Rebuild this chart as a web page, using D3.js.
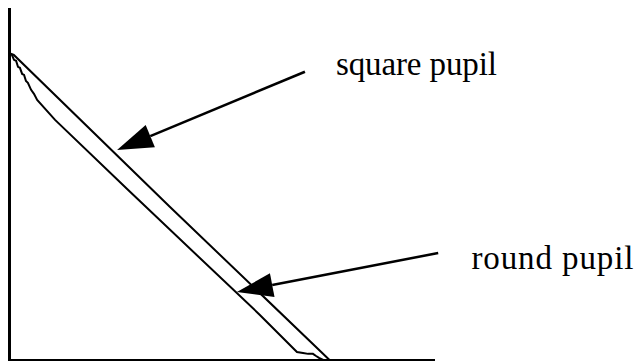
<!DOCTYPE html>
<html>
<head>
<meta charset="utf-8">
<script src="https://cdn.jsdelivr.net/npm/d3@7"></script>
<style>
  html, body { margin: 0; padding: 0; background: #fff; }
  #chart { width: 639px; height: 362px; }
  text { font-family: "Liberation Serif", "DejaVu Serif", serif; fill: #000; }
</style>
</head>
<body>
<div id="chart"></div>
<script>
/* global d3 */

// normalised frequency vs. response
var squarePupil = [
  [0, 1.0], [0.012, 0.995], [0.5, 0.5], [1.0, 0]
];
var roundPupil = [
  [0, 1.0], [0.006, 0.995], [0.0125, 0.979], [0.019, 0.976],
  [0.025, 0.956], [0.031, 0.953], [0.038, 0.933], [0.044, 0.930],
  [0.050, 0.910], [0.056, 0.904], [0.066, 0.881], [0.075, 0.868],
  [0.085, 0.848], [0.141, 0.783], [0.369, 0.555], [0.782, 0.147],
  [0.898, 0.026], [0.917, 0.023], [0.933, 0.020], [0.948, 0.020],
  [0.958, 0.013], [0.967, 0.007], [0.980, 0]
];
var labels = ["square pupil", "round pupil"];
// arrow tail (near label) and tip (on curve), in data units
var arrowTails = [[0.923, 0.940], [1.340, 0.349]];
var arrowTips = [[0.335, 0.685], [0.710, 0.222]];
var labelAnchors = [[1.020, 0.93], [1.444, 0.297]];
var labelWidths = [161, 162];

var width = 639, height = 362;
var x = d3.scaleLinear().domain([0, 1.33]).range([10, 435]);
var y = d3.scaleLinear().domain([0, 1.148]).range([360, 8]);

var svg = d3.select("#chart").append("svg")
  .attr("width", width)
  .attr("height", height);

// axes: bare lines, no ticks
svg.append("line")
  .attr("x1", x(0) - 0.5).attr("x2", x(0) - 0.5)
  .attr("y1", y(1.148)).attr("y2", y(0) + 1)
  .attr("stroke", "#000").attr("stroke-width", 3);
svg.append("line")
  .attr("x1", x(0) - 2).attr("x2", x(1.33))
  .attr("y1", y(0)).attr("y2", y(0))
  .attr("stroke", "#000").attr("stroke-width", 2);

var line = d3.line()
  .x((d) => x(d[0]))
  .y((d) => y(d[1]));

svg.append("g").attr("class", "curves")
  .selectAll("path")
  .data([squarePupil, roundPupil])
  .enter().append("path")
  .attr("d", line)
  .attr("fill", "none")
  .attr("stroke", "#000")
  .attr("stroke-width", 2);

// arrows
var headLen = 36, headHalf = 12;
arrowTails.forEach((tail, i) => {
  var tx = x(tail[0]), ty = y(tail[1]);
  var hx = x(arrowTips[i][0]), hy = y(arrowTips[i][1]);
  var len = Math.hypot(hx - tx, hy - ty);
  var ux = (hx - tx) / len, uy = (hy - ty) / len;
  var bx = hx - ux * headLen, by = hy - uy * headLen;
  svg.append("line")
    .attr("x1", tx).attr("y1", ty)
    .attr("x2", bx).attr("y2", by)
    .attr("stroke", "#000").attr("stroke-width", 2.5);
  svg.append("polygon")
    .attr("points", [
      [hx, hy],
      [bx - uy * headHalf, by + ux * headHalf],
      [bx + uy * headHalf, by - ux * headHalf]
    ].map((p) => p.join(",")).join(" "))
    .attr("fill", "#000");
});

svg.append("g").attr("class", "labels")
  .selectAll("text")
  .data(labels)
  .enter().append("text")
  .attr("x", (d, i) => x(labelAnchors[i][0]))
  .attr("y", (d, i) => y(labelAnchors[i][1]))
  .attr("textLength", (d, i) => labelWidths[i])
  .attr("lengthAdjust", "spacing")
  .style("font-size", "33px")
  .text((d) => d);
</script>
</body>
</html>
